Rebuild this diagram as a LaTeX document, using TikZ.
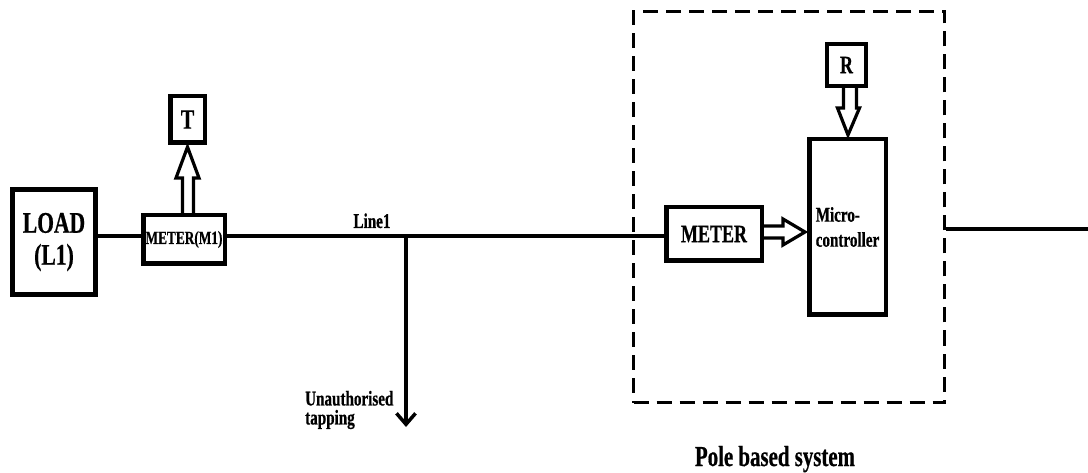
\documentclass[tikz,border=0pt]{standalone}
\usepackage{fontspec}
\setmainfont{Liberation Serif}[FakeStretch=0.72, FakeBold=0.6]
\usetikzlibrary{calc,arrows.meta}
\newcommand{\fs}[2]{\fontsize{#1}{#2}\selectfont\bfseries}
\tikzset{
  blk/.style={draw, line width=4.5pt, inner sep=0pt, fill=white},
  wire/.style={line width=4.5pt},
  harrow/.style={draw, line width=3.2pt, line join=miter},
  dbox/.style={draw, line width=3pt, dash pattern=on 15pt off 8pt, inner sep=0pt},
  lbl/.style={inner sep=0pt},
}
\begin{document}
\begin{tikzpicture}[x=1pt,y=-1pt]
\useasboundingbox (0,0) rectangle (1088,473);
% dashed pole system box
\node[dbox, minimum width=311pt, minimum height=391pt] (pole) at (789,207) {};
% nodes
\node[blk, line width=5pt, minimum width=83pt, minimum height=105pt, align=center, font=\fs{30}{32}] (load) at (54,242) {LOAD\\(L1)};
\node[blk, minimum width=81.5pt, minimum height=48.5pt, font=\fs{18.5}{20}] (m1) at (184,239.5) {METER(M1)};
\node[blk, minimum width=34.5pt, minimum height=46.5pt, font=\fs{28}{30}] (t) at (187.5,119.5) {T};
\node[blk, minimum width=95.5pt, minimum height=53.5pt, font=\fs{25}{27}] (meter) at (714,234) {METER};
\node[blk, minimum width=76.5pt, minimum height=175.5pt, align=left, font=\fs{21}{25}] (mc) at (847.5,227) {Micro-\\controller};
\node[blk, line width=4pt, minimum width=39pt, minimum height=42pt, font=\fs{25}{27}] (r) at (846.5,65) {R};
% coordinates
\coordinate (tap) at (406,236);
\coordinate (tapend) at (406,427);
\coordinate (out) at (1088,229);
% main line
\draw[wire] (load.east |- tap) -- (m1.west |- tap);
\draw[wire] (m1.east |- tap) -- (meter.west |- tap);
\draw[wire] (pole.east |- out) -- (out);
% tapping
\draw[line width=3.5pt, -{Straight Barb[length=11pt,width=19pt,line width=3.5pt]}] (tap) -- (tapend);
% hollow arrow M1 -> T
\draw[harrow] ($(t.south |- m1.north)+(-5,0)$) -- ($(t.south)+(-5,33)$) -- ($(t.south)+(-11.5,33)$) -- ($(t.south)+(0,2)$) -- ($(t.south)+(11.5,33)$) -- ($(t.south)+(6,33)$) -- ($(t.south |- m1.north)+(6,0)$);
% hollow arrow METER -> micro
\draw[harrow] ($(meter.east)+(0,-8)$) -- ($(mc.west |- meter.east)+(-24,-8)$) -- ($(mc.west |- meter.east)+(-24,-15)$) -- ($(mc.west |- meter.east)+(-2,-2)$) -- ($(mc.west |- meter.east)+(-24,11)$) -- ($(mc.west |- meter.east)+(-24,4)$) -- ($(meter.east)+(0,4)$);
% hollow arrow R -> micro
\draw[harrow] ($(r.south)+(-3,0)$) -- ($(r.south)+(-3,20)$) -- ($(r.south)+(-9,20)$) -- ($(r.south |- mc.north)+(1.5,-2)$) -- ($(r.south)+(13,20)$) -- ($(r.south)+(10,20)$) -- ($(r.south)+(10,0)$);
% labels
\node[lbl, anchor=base, font=\fs{21}{23}] (line1) at (372,228) {Line1};
\node[lbl, anchor=west, align=left, font=\fs{21}{19}] (unauth) at (305,410) {Unauthorised\\tapping};
\node[lbl, anchor=base, font=\fs{29}{31}] (polelbl) at (775,466) {Pole based system};
\end{tikzpicture}
\end{document}
